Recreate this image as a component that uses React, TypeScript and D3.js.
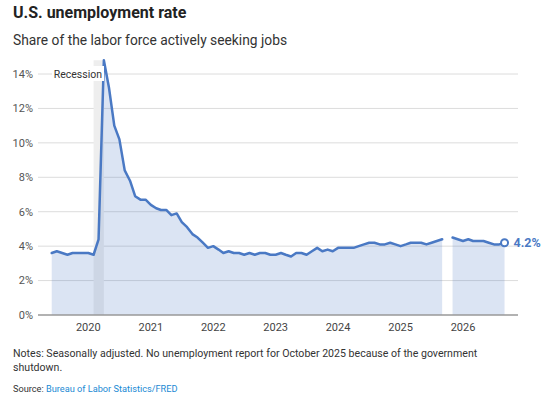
import React from "react";
import * as d3 from "d3";

const seriesStart = "2019-06";
const rates2019 = [3.6, 3.7, 3.6, 3.5, 3.6, 3.6, 3.6];
const rates2020 = [3.6, 3.5, 4.4, 14.8, 13.2, 11.0, 10.2, 8.4, 7.8, 6.9, 6.7, 6.7];
const rates2021 = [6.4, 6.2, 6.1, 6.1, 5.8, 5.9, 5.4, 5.1, 4.7, 4.5, 4.2, 3.9];
const rates2022 = [4.0, 3.8, 3.6, 3.7, 3.6, 3.6, 3.5, 3.6, 3.5, 3.6, 3.6, 3.5];
const rates2023 = [3.5, 3.6, 3.5, 3.4, 3.6, 3.6, 3.5, 3.7, 3.9, 3.7, 3.8, 3.7];
const rates2024 = [3.9, 3.9, 3.9, 3.9, 4.0, 4.1, 4.2, 4.2, 4.1, 4.1, 4.2, 4.1];
const rates2025 = [4.0, 4.1, 4.2, 4.2, 4.2, 4.1, 4.2, 4.3, 4.4, null, 4.5, 4.4];
const rates2026 = [4.3, 4.4, 4.3, 4.3, 4.3, 4.2, 4.1, 4.1, 4.2];

const recession = ["2020-02", "2020-04"];
const yTicks = [0, 2, 4, 6, 8, 10, 12, 14];
const xTickYears = [2020, 2021, 2022, 2023, 2024, 2025, 2026];

const title = "U.S. unemployment rate";
const subtitle = "Share of the labor force actively seeking jobs";
const notesLine1 =
  "Notes: Seasonally adjusted. No unemployment report for October 2025 because of the government";
const notesLine2 = "shutdown.";
const sourceLabel = "Source: ";
const sourceText = "Bureau of Labor Statistics/FRED";

type Pt = { date: Date; value: number | null };

const parseMonth = d3.timeParse("%Y-%m");

function buildData(): Pt[] {
  const all = [
    ...rates2019,
    ...rates2020,
    ...rates2021,
    ...rates2022,
    ...rates2023,
    ...rates2024,
    ...rates2025,
    ...rates2026,
  ];
  const start = parseMonth(seriesStart) as Date;
  return all.map((v, i) => ({ date: d3.timeMonth.offset(start, i), value: v }));
}

const FONT = "Roboto, 'Noto Sans', sans-serif";
const LINE = "#4a79c4";

export default function App() {
  const data = buildData();
  const left = 38;
  const right = 518;
  const x = d3
    .scaleTime()
    .domain([new Date(2020, 0, 1), new Date(2026, 0, 1)])
    .range([88.3, 463]);
  const y = d3.scaleLinear().domain([0, 14]).range([315, 74]);

  const line = d3
    .line<Pt>()
    .defined((d) => d.value != null)
    .x((d) => x(d.date))
    .y((d) => y(d.value as number));
  const area = d3
    .area<Pt>()
    .defined((d) => d.value != null)
    .x((d) => x(d.date))
    .y0(y(0))
    .y1((d) => y(d.value as number));

  const maxV = d3.max(data, (d) => d.value as number) as number;
  const r0 = x(parseMonth(recession[0]) as Date);
  const r1 = x(parseMonth(recession[1]) as Date);
  const last = data[data.length - 1];
  const lx = x(last.date);
  const ly = y(last.value as number);

  return (
    <svg
      width={550}
      height={400}
      style={{ position: "absolute", left: 0, top: 0, background: "#fff" }}
      fontFamily={FONT}
    >
      <text x={13} y={17.5} fontSize={16} fontWeight={700} fill="#222">
        {title}
      </text>
      <text x={13} y={45} fontSize={13.8} fill="#333">
        {subtitle}
      </text>

      {yTicks.map((t) => (
        <g key={t}>
          {t > 0 && (
            <line x1={left} x2={right} y1={y(t)} y2={y(t)} stroke="#dcdcdc" strokeWidth={1} />
          )}
          <text
            x={33}
            y={y(t)}
            dy="0.35em"
            textAnchor="end"
            fontSize={11}
            fill="#555"
          >
            {t}%
          </text>
        </g>
      ))}

      <rect x={r0} y={y(maxV)} width={r1 - r0} height={y(0) - y(maxV)} fill="#eeeeee" />

      <path d={area(data) || ""} fill={LINE} fillOpacity={0.2} />
      <path
        d={line(data) || ""}
        fill="none"
        stroke={LINE}
        strokeWidth={2.5}
        strokeLinejoin="round"
        strokeLinecap="round"
      />

      <line x1={left} x2={right} y1={y(0)} y2={y(0)} stroke="#999" strokeWidth={1.5} />

      <rect x={52} y={y(14) - 8} width={52} height={15} fill="#fff" />
      <text x={102} y={y(14)} dy="0.35em" textAnchor="end" fontSize={10.5} fill="#333">
        Recession
      </text>

      {xTickYears.map((yr) => (
        <text
          key={yr}
          x={x(new Date(yr, 0, 1))}
          y={331}
          textAnchor="middle"
          fontSize={11}
          fill="#444"
        >
          {yr}
        </text>
      ))}

      <circle cx={lx} cy={ly} r={3.5} fill="#fff" stroke={LINE} strokeWidth={2} />
      <text x={lx + 9} y={ly} dy="0.35em" fontSize={12.5} fontWeight={700} fill={LINE}>
        {d3.format(".1f")(last.value as number)}%
      </text>

      <text x={13} y={357} fontSize={10.6} fill="#333">
        {notesLine1}
      </text>
      <text x={13} y={371} fontSize={10.6} fill="#333">
        {notesLine2}
      </text>
      <text x={13} y={392} fontSize={9.2} fill="#333">
        {sourceLabel}
        <tspan fill="#1a8ad4">{sourceText}</tspan>
      </text>
    </svg>
  );
}
